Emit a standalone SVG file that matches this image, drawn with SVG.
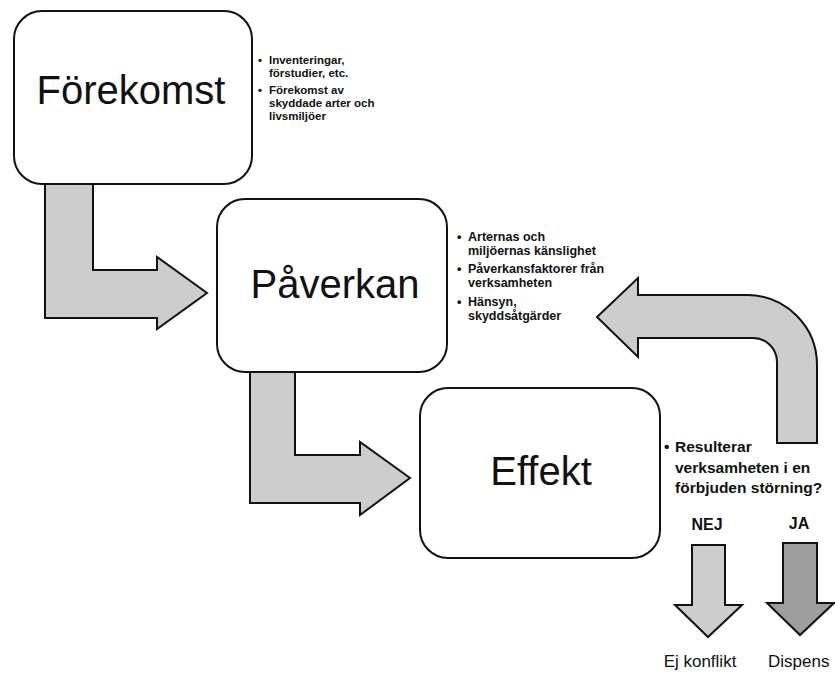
<svg xmlns="http://www.w3.org/2000/svg" width="835" height="673" viewBox="0 0 835 673">
<style>
.box{fill:#fff;stroke:#111;stroke-width:2}
.arr{fill:#cdcdcd;stroke:#111;stroke-width:2;stroke-linejoin:miter}
.arrd{fill:#9e9e9e;stroke:#111;stroke-width:2}
.title{font-family:"Liberation Sans",Arial,sans-serif;font-size:40px;fill:#111;text-anchor:middle}
.note1{font-family:"Liberation Sans",Arial,sans-serif;font-size:11.5px;font-weight:bold;fill:#111}
.note{font-family:"Liberation Sans",Arial,sans-serif;font-size:12.5px;font-weight:bold;fill:#111}
.note2{font-family:"Liberation Sans",Arial,sans-serif;font-size:15.5px;font-weight:bold;fill:#111}
.lab{font-family:"Liberation Sans",Arial,sans-serif;font-size:16px;font-weight:bold;fill:#111}
.out{font-family:"Liberation Sans",Arial,sans-serif;font-size:17px;fill:#111}
</style>
<rect width="835" height="673" fill="#fff"/>
<g id="connectors">
<path class="arr" d="M45,183 L93,183 L93,270 L157,270 L157,257 L207,293 L157,329 L157,318 L45,318 Z"/>
<path class="arr" d="M250,370 L295,370 L295,455 L360,455 L360,442 L410,478 L360,515 L360,503 L250,503 Z"/>
<path class="arr" d="M597,317 L638,278 L638,295 L747,295 A70,70 0 0 1 817,365 L817,443 L777,443 L777,362 A24,24 0 0 0 753,338 L638,338 L638,357 Z"/>
<path class="arr" d="M692,545 L725,545 L725,605 L742,605 L708,637 L675,605 L692,605 Z"/>
<path class="arrd" d="M783,543 L817,543 L817,603 L834,603 L800,635 L767,603 L783,603 Z"/>
</g>
<g id="forekomst">
<rect class="box" x="14" y="11" width="238" height="173" rx="28"/>
<text class="title" x="131" y="104">Förekomst</text>
</g>
<g id="forekomst-notes">
<text class="note1" x="258" y="64">•</text>
<text class="note1" x="269" y="64">Inventeringar,</text>
<text class="note1" x="269" y="77">förstudier, etc.</text>
<text class="note1" x="258" y="94">•</text>
<text class="note1" x="269" y="94">Förekomst av</text>
<text class="note1" x="269" y="107">skyddade arter och</text>
<text class="note1" x="269" y="120">livsmiljöer</text>
</g>
<g id="paverkan">
<rect class="box" x="217" y="199" width="230" height="173" rx="28"/>
<text class="title" x="335" y="298">Påverkan</text>
</g>
<g id="paverkan-notes">
<text class="note" x="457" y="241">•</text>
<text class="note" x="468" y="241">Arternas och</text>
<text class="note" x="468" y="255">miljöernas känslighet</text>
<text class="note" x="457" y="273">•</text>
<text class="note" x="468" y="273">Påverkansfaktorer från</text>
<text class="note" x="468" y="287">verksamheten</text>
<text class="note" x="457" y="306">•</text>
<text class="note" x="468" y="306">Hänsyn,</text>
<text class="note" x="468" y="320">skyddsåtgärder</text>
</g>
<g id="effekt">
<rect class="box" x="420" y="388" width="240" height="170" rx="28"/>
<text class="title" x="541" y="485">Effekt</text>
</g>
<g id="effekt-notes">
<text class="note2" x="664" y="452">•</text>
<text class="note2" x="675" y="452">Resulterar</text>
<text class="note2" x="675" y="473">verksamheten i en</text>
<text class="note2" x="675" y="493">förbjuden störning?</text>
</g>
<g id="nej">
<text class="lab" x="707" y="530" text-anchor="middle">NEJ</text>
<text class="out" x="700" y="667" text-anchor="middle">Ej konflikt</text>
</g>
<g id="ja">
<text class="lab" x="799" y="529" text-anchor="middle">JA</text>
<text class="out" x="768" y="667">Dispens</text>
</g>
</svg>
